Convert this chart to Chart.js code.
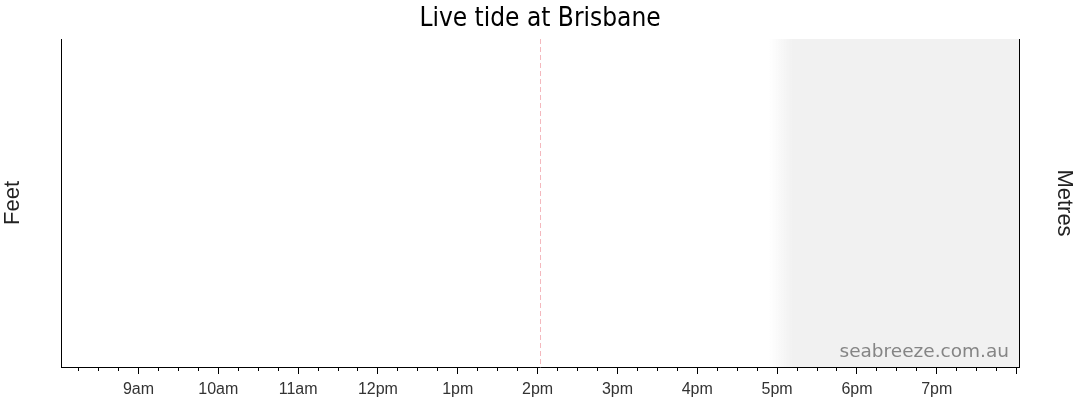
<!DOCTYPE html>
<html>
<head>
<meta charset="utf-8">
<title>Live tide at Brisbane</title>
<script src="https://cdn.jsdelivr.net/npm/chart.js@4.4.0/dist/chart.umd.min.js"></script>
<style>
  html, body { margin: 0; padding: 0; background: #fff; }
  canvas { display: block; }
</style>
</head>
<body>
<canvas id="tideChart" width="1080" height="414"></canvas>
<script>
// hours of the day shown on the x axis (decimal hours)
var hourTicks  = [9, 10, 11, 12, 13, 14, 15, 16, 17, 18, 19];
var hourLabels = ['9am', '10am', '11am', '12pm', '1pm', '2pm', '3pm', '4pm', '5pm', '6pm', '7pm'];
var viewStart = 8.03;
var viewEnd = 20.03;
var nowHour = 14.03;
// sunset fade, then dark
var twilightStart = 16.9;
var nightStart = 17.2;
// no tide readings are plotted yet
var tideFeet = [];

var nightShade = {
  id: 'nightShade',
  beforeDraw: function (chart) {
    var ctx = chart.ctx, a = chart.chartArea, x = chart.scales.x;
    var x0 = x.getPixelForValue(twilightStart);
    var x1 = x.getPixelForValue(nightStart);
    var g = ctx.createLinearGradient(x0, 0, x1, 0);
    g.addColorStop(0, 'rgba(241,241,241,0)');
    g.addColorStop(1, 'rgba(241,241,241,1)');
    ctx.save();
    ctx.fillStyle = g;
    ctx.fillRect(x0, a.top, x1 - x0, a.bottom - a.top);
    ctx.fillStyle = '#f1f1f1';
    ctx.fillRect(x1, a.top, a.right - x1, a.bottom - a.top);
    ctx.restore();
  }
};

var nowLine = {
  id: 'nowLine',
  afterDatasetsDraw: function (chart) {
    var ctx = chart.ctx, a = chart.chartArea, x = chart.scales.x;
    var px = Math.round(x.getPixelForValue(nowHour)) + 0.5;
    ctx.save();
    ctx.strokeStyle = '#f4b8bd';
    ctx.lineWidth = 1;
    ctx.setLineDash([5, 3]);
    ctx.beginPath();
    ctx.moveTo(px, a.top);
    ctx.lineTo(px, a.bottom);
    ctx.stroke();
    ctx.restore();
  }
};

var watermark = {
  id: 'watermark',
  afterDraw: function (chart) {
    var ctx = chart.ctx, a = chart.chartArea;
    ctx.save();
    ctx.font = '18.5px "DejaVu Sans"';
    ctx.fillStyle = '#858585';
    ctx.textAlign = 'right';
    ctx.textBaseline = 'alphabetic';
    ctx.fillText('seabreeze.com.au', a.right - 10, a.bottom - 10);
    ctx.restore();
  }
};

var ctx = document.getElementById('tideChart').getContext('2d');
var tideChart = new Chart(ctx, {
  type: 'line',
  data: {
    datasets: [{
      label: 'Tide',
      data: tideFeet,
      xAxisID: 'x',
      yAxisID: 'yFeet',
      borderColor: '#3a7bd5',
      pointRadius: 0
    }]
  },
  options: {
    responsive: false,
    animation: false,
    layout: { padding: 0 },
    plugins: {
      legend: { display: false },
      tooltip: { enabled: false },
      title: {
        display: true,
        text: 'Live tide at Brisbane',
        color: '#000',
        font: { family: '"DejaVu Sans Condensed", "Liberation Sans", sans-serif', size: 26, weight: 'normal' },
        padding: { top: 4, bottom: 3.8 }
      }
    },
    scales: {
      x: {
        type: 'linear',
        position: 'bottom',
        min: viewStart,
        max: viewEnd,
        afterBuildTicks: function (scale) {
          var t = [];
          for (var q = Math.ceil(viewStart * 4); q <= Math.floor(viewEnd * 4); q++) t.push({ value: q / 4 });
          scale.ticks = t;
        },
        afterFit: function (scale) { scale.height = 47; },
        ticks: {
          autoSkip: false,
          maxRotation: 0,
          padding: 6,
          color: '#333',
          font: { family: '"Liberation Sans", Arial, sans-serif', size: 16 },
          callback: function (value) {
            var i = hourTicks.indexOf(value);
            return i >= 0 ? hourLabels[i] : '';
          }
        },
        grid: {
          drawOnChartArea: false,
          tickLength: 7,
          tickColor: '#000',
          tickBorderDash: function (c) {
            return c.tick && c.tick.value % 1 === 0 ? [] : [3, 10];
          }
        },
        border: { display: true, color: '#000', width: 1 }
      },
      yFeet: {
        type: 'linear',
        position: 'left',
        min: 0,
        max: 6,
        afterFit: function (scale) { scale.width = 61; },
        ticks: { display: false },
        grid: { display: false },
        border: { display: true, color: '#000', width: 1 },
        title: {
          display: true,
          text: 'Feet',
          color: '#222',
          padding: 0,
          font: { family: '"Liberation Sans", Arial, sans-serif', size: 22 }
        }
      },
      yMetres: {
        type: 'linear',
        position: 'right',
        min: 0,
        max: 1.8,
        afterFit: function (scale) { scale.width = 61; },
        ticks: { display: false },
        grid: { display: false },
        border: { display: true, color: '#000', width: 1 },
        title: {
          display: true,
          text: 'Metres',
          color: '#222',
          padding: 3,
          font: { family: '"Liberation Sans", Arial, sans-serif', size: 22 }
        }
      }
    }
  },
  plugins: [nightShade, nowLine, watermark]
});
</script>
</body>
</html>
